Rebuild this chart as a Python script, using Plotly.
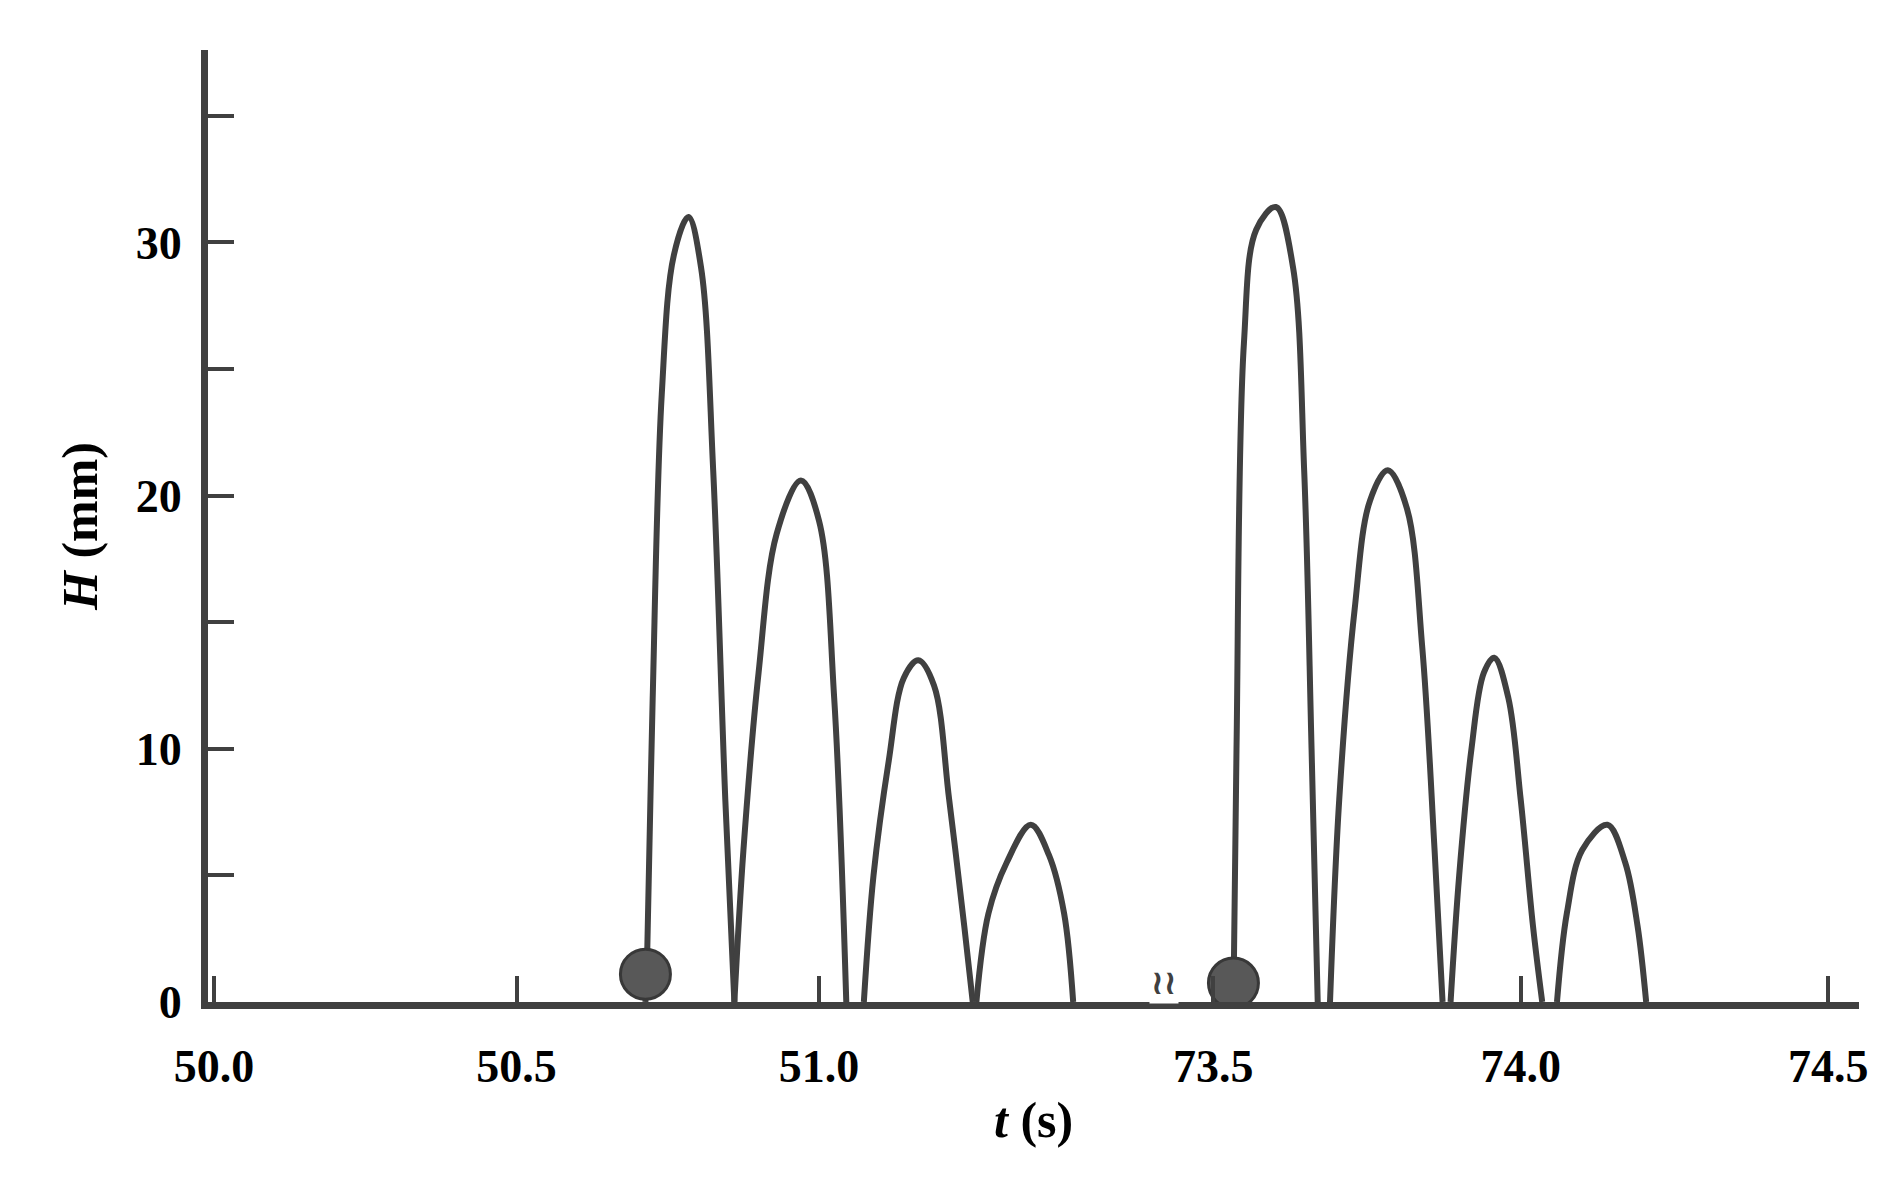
import plotly.graph_objects as go

# left segment (t around 50-51.5 s)
t_left = [
    [50.713, 50.716, 50.725, 50.74, 50.76, 50.784, 50.805, 50.825, 50.845, 50.86],
    [50.86, 50.875, 50.9, 50.93, 50.97, 51.0, 51.025, 51.045],
    [51.074, 51.09, 51.115, 51.14, 51.164, 51.19, 51.215, 51.24, 51.254],
    [51.26, 51.28, 51.31, 51.35, 51.38, 51.405, 51.42],
]
h_left = [
    [0, 2, 12, 24, 29.5, 31.0, 29.0, 21, 8, 0],
    [0, 6, 13, 18.5, 20.6, 19, 12, 0],
    [0, 5, 9.5, 12.8, 13.5, 12.5, 8, 3, 0],
    [0, 3.5, 5.5, 7.0, 5.8, 3.5, 0],
]

# right segment (t around 73.5-74.5 s)
t_right = [
    [73.533, 73.538, 73.55, 73.57, 73.602, 73.63, 73.648, 73.66, 73.67],
    [73.69, 73.705, 73.73, 73.755, 73.784, 73.815, 73.84, 73.86, 73.873],
    [73.886, 73.9, 73.92, 73.94, 73.957, 73.98, 74.0, 74.02, 74.035],
    [74.059, 74.075, 74.1, 74.141, 74.17, 74.19, 74.204],
]
h_right = [
    [0, 10, 26, 30.5, 31.4, 29, 21, 10, 0],
    [0, 8, 15.5, 19.8, 21.0, 19.5, 14, 6, 0],
    [0, 5, 10, 13.0, 13.6, 12, 8, 3, 0],
    [0, 3.5, 6.0, 7.0, 5.5, 3, 0],
]

ball_t = [50.713, 73.533]
ball_h = [1.1, 0.75]

line_col = "#404040"
font = dict(family="Liberation Serif", size=50, color="black")

fig = go.Figure()
for ts, hs in zip(t_left, h_left):
    fig.add_scatter(x=ts, y=hs, mode="lines", line=dict(color=line_col, width=6, shape="spline"),
                    xaxis="x", yaxis="y")
for ts, hs in zip(t_right, h_right):
    fig.add_scatter(x=ts, y=hs, mode="lines", line=dict(color=line_col, width=6, shape="spline"),
                    xaxis="x2", yaxis="y")
fig.add_scatter(x=[ball_t[0]], y=[ball_h[0]], mode="markers", xaxis="x", yaxis="y",
                marker=dict(size=50, color="#585858", line=dict(color="#383838", width=3)))
fig.add_scatter(x=[ball_t[1]], y=[ball_h[1]], mode="markers", xaxis="x2", yaxis="y",
                marker=dict(size=50, color="#585858", line=dict(color="#383838", width=3)))

axis_common = dict(showgrid=False, zeroline=False, showline=True, linecolor=line_col, linewidth=7,
                   ticks="inside", ticklen=26, tickwidth=4, tickcolor=line_col,
                   tickfont=dict(family="Liberation Serif", size=46, color="black", weight="bold"))
fig.update_layout(
    width=1887, height=1189, plot_bgcolor="white", paper_bgcolor="white", showlegend=False,
    margin=dict(l=200, r=36, t=42, b=195),
    xaxis=dict(axis_common, domain=[0, 0.579], range=[49.99, 51.57], ticklabelstandoff=18,
               tickvals=[50.0, 50.5, 51.0], ticktext=["50.0", "50.5", "51.0"]),
    xaxis2=dict(axis_common, domain=[0.579, 1], range=[73.42, 74.55], anchor="y", ticklabelstandoff=18,
                tickvals=[73.5, 74.0, 74.5], ticktext=["73.5", "74.0", "74.5"]),
    yaxis=dict(axis_common, range=[0, 37.6], tickvals=[0, 5, 10, 15, 20, 25, 30, 35],
               ticktext=["0", "", "10", "", "20", "", "30", ""], ticklabelstandoff=10,
               title=dict(text="<b><i>H</i> (mm)</b>", font=font, standoff=25)),
)
fig.add_annotation(x=0.5, y=-0.155, xref="paper", yref="paper", showarrow=False,
                   text="<b><i>t</i> (s)</b>", font=font)
fig.add_annotation(x=0.579, y=0, xref="paper", yref="paper", showarrow=False, yshift=-2,
                   text="<b>≀≀</b>", font=dict(family="DejaVu Sans", size=34, color=line_col),
                   bgcolor="white")
fig.write_html("out.html")
